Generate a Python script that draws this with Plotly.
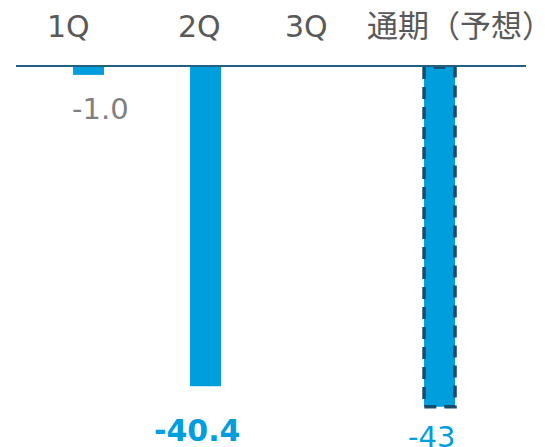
import plotly.graph_objects as go

categories = ["1Q", "2Q", "3Q", "通期（予想）"]
values = [-1.0, -40.4, None, -43.0]
value_labels = ["-1.0", "-40.4", "", "-43"]
forecast_index = 3

BAR_COLOR = "#009EDC"
EDGE_COLOR = "#1A4B6B"
AXIS_COLOR = "#21607F"
FONT = "DejaVu Sans, Noto Sans CJK JP, sans-serif"
BAR_W = 0.265

xs = list(range(len(categories)))

fig = go.Figure()
fig.add_trace(go.Bar(
    x=xs, y=values, width=BAR_W,
    marker=dict(color=BAR_COLOR, line=dict(width=0)),
    hoverinfo="skip", showlegend=False,
))

# dashed outline for forecast bar, derived from data
fx = xs[forecast_index]
fv = values[forecast_index]
fig.add_trace(go.Scatter(
    x=[fx - BAR_W / 2, fx - BAR_W / 2, fx + BAR_W / 2, fx + BAR_W / 2, fx - BAR_W / 2],
    y=[0, fv, fv, 0, 0],
    mode="lines",
    line=dict(color=EDGE_COLOR, width=3.5, dash="12px,8px"),
    hoverinfo="skip", showlegend=False, cliponaxis=False,
))

# category labels (top)
cat_shift = [-20, -6, -16, 20]
cat_size = [30, 30, 30, 31]
for i, c in enumerate(categories):
    fig.add_annotation(
        x=xs[i], y=1, yref="paper", xref="x", text=c, showarrow=False,
        yanchor="middle", yshift=41, xshift=cat_shift[i],
        font=dict(family=FONT, size=cat_size[i], color="#595959"),
    )

# value labels
val_style = [
    dict(color="#7F7F7F", bold=False, xshift=12, yshift=-15, size=29),
    dict(color="#009EDC", bold=True, xshift=-9, yshift=-25, size=30),
    None,
    dict(color="#009EDC", bold=False, xshift=-8, yshift=-11, size=29),
]
for i, (v, lab) in enumerate(zip(values, value_labels)):
    if v is None or not lab:
        continue
    st = val_style[i]
    txt = f"<b>{lab}</b>" if st["bold"] else lab
    fig.add_annotation(
        x=xs[i], y=v, text=txt, showarrow=False,
        yanchor="top", yshift=st["yshift"], xshift=st["xshift"],
        font=dict(family=FONT, size=st["size"], color=st["color"]),
    )

fig.update_layout(
    width=537, height=439,
    margin=dict(l=8, r=19, t=59, b=0),
    paper_bgcolor="white", plot_bgcolor="white",
    showlegend=False,
    xaxis=dict(
        range=[-0.62, 3.739], side="top", showline=True, linecolor=AXIS_COLOR,
        linewidth=2, showticklabels=False, ticks="", showgrid=False, zeroline=False,
        fixedrange=True,
    ),
    yaxis=dict(
        range=[-48.1, 0], visible=False, showgrid=False, zeroline=False, fixedrange=True,
    ),
)

fig.write_html("out.html")
